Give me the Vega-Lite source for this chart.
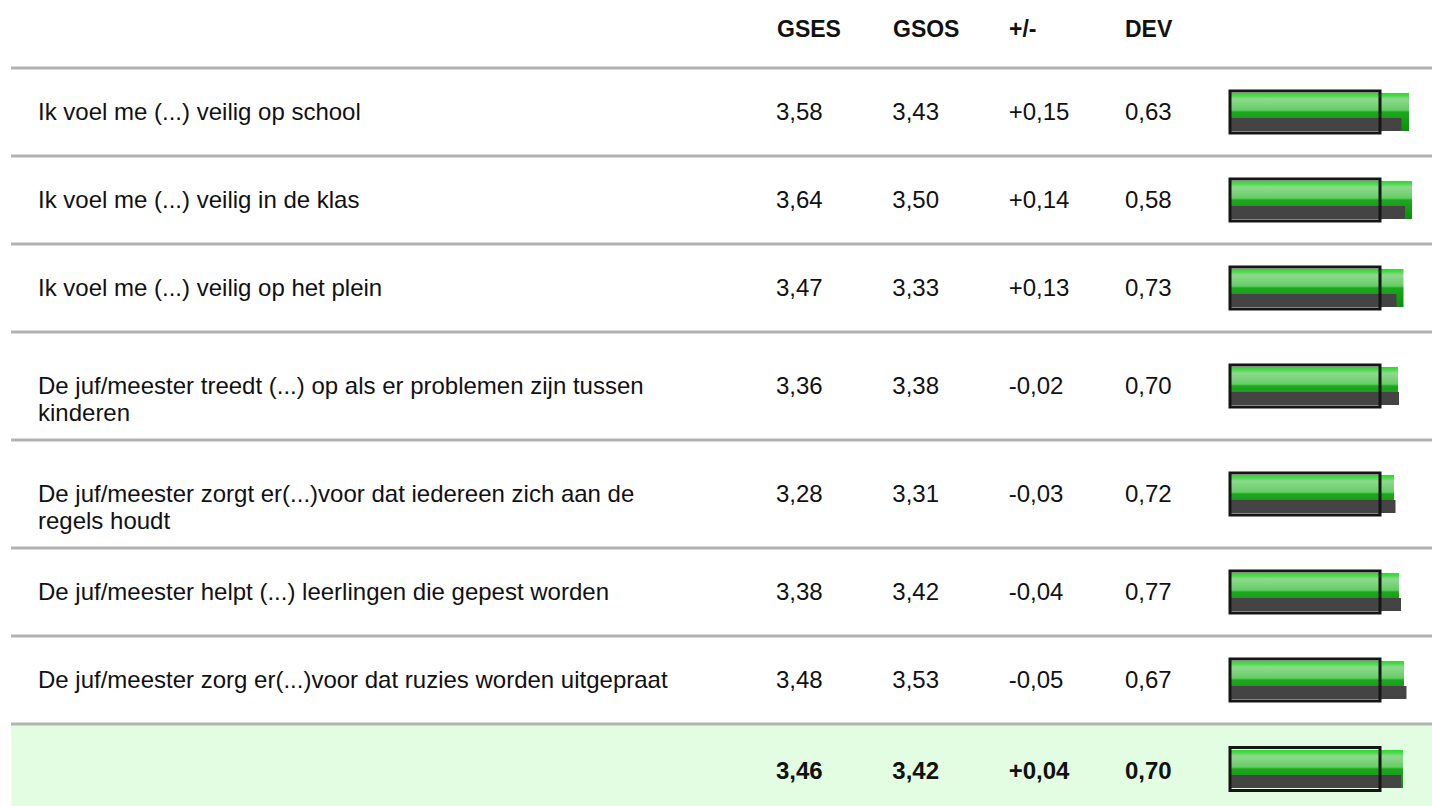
{
  "$schema": "https://vega.github.io/schema/vega-lite/v6.json",
  "padding": {"left": 9, "top": 0, "right": 0, "bottom": 0},
  "spacing": 0,
  "bounds": "flush",
  "background": "white",
  "config": {
    "view": {"stroke": null},
    "axis": {"disable": true},
    "text": {"font": "Liberation Sans", "fontSize": 24, "fill": "#111111", "baseline": "middle", "align": "left"},
    "locale": {"number": {"decimal": ",", "thousands": ".", "grouping": [3], "currency": ["€", ""], "minus": "-"}}
  },
  "datasets": {
    "header": [
      {"row": 0, "key": "GSES", "title": "GSES"},
      {"row": 0, "key": "GSOS", "title": "GSOS"},
      {"row": 0, "key": "diff", "title": "+/-"},
      {"row": 0, "key": "DEV", "title": "DEV"}
    ],
    "rows": [
      {"group": "a", "row": 1, "label": "Ik voel me (...) veilig op school", "GSES": 3.58, "GSOS": 3.43, "diff": 0.15, "DEV": 0.63},
      {"group": "a", "row": 2, "label": "Ik voel me (...) veilig in de klas", "GSES": 3.64, "GSOS": 3.50, "diff": 0.14, "DEV": 0.58},
      {"group": "a", "row": 3, "label": "Ik voel me (...) veilig op het plein", "GSES": 3.47, "GSOS": 3.33, "diff": 0.13, "DEV": 0.73},
      {"group": "b", "row": 4, "label": "De juf/meester treedt (...) op als er problemen zijn tussen\nkinderen", "GSES": 3.36, "GSOS": 3.38, "diff": -0.02, "DEV": 0.70},
      {"group": "b", "row": 5, "label": "De juf/meester zorgt er(...)voor dat iedereen zich aan de\nregels houdt", "GSES": 3.28, "GSOS": 3.31, "diff": -0.03, "DEV": 0.72},
      {"group": "c", "row": 6, "label": "De juf/meester helpt (...) leerlingen die gepest worden", "GSES": 3.38, "GSOS": 3.42, "diff": -0.04, "DEV": 0.77},
      {"group": "c", "row": 7, "label": "De juf/meester zorg er(...)voor dat ruzies worden uitgepraat", "GSES": 3.48, "GSOS": 3.53, "diff": -0.05, "DEV": 0.67},
      {"group": "t", "row": 8, "label": "", "GSES": 3.46, "GSOS": 3.42, "diff": 0.04, "DEV": 0.70}
    ]
  },
  "vconcat": [
    {
      "width": 1423, "height": 68,
      "data": {"name": "header"},
      "mark": {"type": "text", "fontWeight": "bold", "fontSize": 23, "dy": -4},
      "encoding": {
        "y": {"field": "row", "type": "ordinal", "scale": {"paddingInner": 0, "paddingOuter": 0}},
        "x": {"field": "key", "type": "nominal", "scale": {"type": "point", "domain": ["GSES", "GSOS", "diff", "DEV"], "range": [766, 1114], "padding": 0}},
        "text": {"field": "title"}
      }
    },
    {
      "width": 1423, "height": 264,
      "data": {"name": "rows"},
      "transform": [{"filter": "datum.group === 'a'"}],
      "encoding": {"y": {"field": "row", "type": "ordinal", "scale": {"paddingInner": 0, "paddingOuter": 0}}},
      "layer": [
        {"mark": {"type": "rule", "color": "#b3b3b3", "strokeWidth": 3}, "encoding": {"y": {"field": "row", "type": "ordinal", "bandPosition": 0}}},
        {"mark": {"type": "text", "dx": 27, "dy": 1, "lineBreak": "\n", "lineHeight": 27}, "encoding": {"x": {"value": 0}, "text": {"field": "label"}}},
        {"transform": [{"fold": ["GSES", "GSOS", "DEV"], "as": ["key", "v"]}], "mark": {"type": "text", "dy": 1}, "encoding": {"x": {"field": "key", "type": "nominal", "scale": {"type": "point", "domain": ["GSES", "GSOS", "diff", "DEV"], "range": [765, 1114], "padding": 0}}, "text": {"field": "v", "type": "quantitative", "format": ".2f"}}},
        {"mark": {"type": "text", "dy": 1}, "encoding": {"x": {"datum": "diff", "type": "nominal", "scale": {"type": "point", "domain": ["GSES", "GSOS", "diff", "DEV"], "range": [765, 1114], "padding": 0}}, "text": {"field": "diff", "type": "quantitative", "format": "+.2f"}}},
        {"mark": {"type": "bar", "height": 38, "fill": {"gradient": "linear", "x1": 0, "y1": 0, "x2": 0, "y2": 1, "stops": [{"offset": 0, "color": "#33d433"}, {"offset": 0.08, "color": "#4bdc4b"}, {"offset": 0.16, "color": "#8fd98f"}, {"offset": 0.45, "color": "#66cc66"}, {"offset": 0.5, "color": "#1ca81c"}, {"offset": 1, "color": "#0b900b"}]}}, "encoding": {"x": {"field": "GSES", "type": "quantitative", "scale": {"type": "linear", "domain": [-24.38, 4.08], "nice": false, "zero": false}}}},
        {"mark": {"type": "bar", "height": 13, "yOffset": 12.5, "color": "#444444"}, "encoding": {"x": {"field": "GSOS", "type": "quantitative", "scale": {"type": "linear", "domain": [-24.38, 4.08], "nice": false, "zero": false}}}},
        {"mark": {"type": "bar", "height": 42, "fill": "transparent", "stroke": "#151515", "strokeWidth": 3}, "encoding": {"x": {"datum": 0, "type": "quantitative", "scale": {"type": "linear", "domain": [-24.38, 4.08], "nice": false, "zero": false}}, "x2": {"datum": 3}}}
      ],
      "resolve": {"scale": {"x": "independent"}}
    },
    {
      "width": 1423, "height": 216,
      "data": {"name": "rows"},
      "transform": [{"filter": "datum.group === 'b'"}],
      "encoding": {"y": {"field": "row", "type": "ordinal", "scale": {"paddingInner": 0, "paddingOuter": 0}}},
      "layer": [
        {"mark": {"type": "rule", "color": "#b3b3b3", "strokeWidth": 3}, "encoding": {"y": {"field": "row", "type": "ordinal", "bandPosition": 0}}},
        {"mark": {"type": "text", "dx": 27, "dy": 1, "lineBreak": "\n", "lineHeight": 27}, "encoding": {"x": {"value": 0}, "text": {"field": "label"}}},
        {"transform": [{"fold": ["GSES", "GSOS", "DEV"], "as": ["key", "v"]}], "mark": {"type": "text", "dy": 1}, "encoding": {"x": {"field": "key", "type": "nominal", "scale": {"type": "point", "domain": ["GSES", "GSOS", "diff", "DEV"], "range": [765, 1114], "padding": 0}}, "text": {"field": "v", "type": "quantitative", "format": ".2f"}}},
        {"mark": {"type": "text", "dy": 1}, "encoding": {"x": {"datum": "diff", "type": "nominal", "scale": {"type": "point", "domain": ["GSES", "GSOS", "diff", "DEV"], "range": [765, 1114], "padding": 0}}, "text": {"field": "diff", "type": "quantitative", "format": "+.2f"}}},
        {"mark": {"type": "bar", "height": 38, "fill": {"gradient": "linear", "x1": 0, "y1": 0, "x2": 0, "y2": 1, "stops": [{"offset": 0, "color": "#33d433"}, {"offset": 0.08, "color": "#4bdc4b"}, {"offset": 0.16, "color": "#8fd98f"}, {"offset": 0.45, "color": "#66cc66"}, {"offset": 0.5, "color": "#1ca81c"}, {"offset": 1, "color": "#0b900b"}]}}, "encoding": {"x": {"field": "GSES", "type": "quantitative", "scale": {"type": "linear", "domain": [-24.38, 4.08], "nice": false, "zero": false}}}},
        {"mark": {"type": "bar", "height": 13, "yOffset": 12.5, "color": "#444444"}, "encoding": {"x": {"field": "GSOS", "type": "quantitative", "scale": {"type": "linear", "domain": [-24.38, 4.08], "nice": false, "zero": false}}}},
        {"mark": {"type": "bar", "height": 42, "fill": "transparent", "stroke": "#151515", "strokeWidth": 3}, "encoding": {"x": {"datum": 0, "type": "quantitative", "scale": {"type": "linear", "domain": [-24.38, 4.08], "nice": false, "zero": false}}, "x2": {"datum": 3}}}
      ],
      "resolve": {"scale": {"x": "independent"}}
    },
    {
      "width": 1423, "height": 176,
      "data": {"name": "rows"},
      "transform": [{"filter": "datum.group === 'c'"}],
      "encoding": {"y": {"field": "row", "type": "ordinal", "scale": {"paddingInner": 0, "paddingOuter": 0}}},
      "layer": [
        {"mark": {"type": "rule", "color": "#b3b3b3", "strokeWidth": 3}, "encoding": {"y": {"field": "row", "type": "ordinal", "bandPosition": 0}}},
        {"mark": {"type": "text", "dx": 27, "dy": 1, "lineBreak": "\n", "lineHeight": 27}, "encoding": {"x": {"value": 0}, "text": {"field": "label"}}},
        {"transform": [{"fold": ["GSES", "GSOS", "DEV"], "as": ["key", "v"]}], "mark": {"type": "text", "dy": 1}, "encoding": {"x": {"field": "key", "type": "nominal", "scale": {"type": "point", "domain": ["GSES", "GSOS", "diff", "DEV"], "range": [765, 1114], "padding": 0}}, "text": {"field": "v", "type": "quantitative", "format": ".2f"}}},
        {"mark": {"type": "text", "dy": 1}, "encoding": {"x": {"datum": "diff", "type": "nominal", "scale": {"type": "point", "domain": ["GSES", "GSOS", "diff", "DEV"], "range": [765, 1114], "padding": 0}}, "text": {"field": "diff", "type": "quantitative", "format": "+.2f"}}},
        {"mark": {"type": "bar", "height": 38, "fill": {"gradient": "linear", "x1": 0, "y1": 0, "x2": 0, "y2": 1, "stops": [{"offset": 0, "color": "#33d433"}, {"offset": 0.08, "color": "#4bdc4b"}, {"offset": 0.16, "color": "#8fd98f"}, {"offset": 0.45, "color": "#66cc66"}, {"offset": 0.5, "color": "#1ca81c"}, {"offset": 1, "color": "#0b900b"}]}}, "encoding": {"x": {"field": "GSES", "type": "quantitative", "scale": {"type": "linear", "domain": [-24.38, 4.08], "nice": false, "zero": false}}}},
        {"mark": {"type": "bar", "height": 13, "yOffset": 12.5, "color": "#444444"}, "encoding": {"x": {"field": "GSOS", "type": "quantitative", "scale": {"type": "linear", "domain": [-24.38, 4.08], "nice": false, "zero": false}}}},
        {"mark": {"type": "bar", "height": 42, "fill": "transparent", "stroke": "#151515", "strokeWidth": 3}, "encoding": {"x": {"datum": 0, "type": "quantitative", "scale": {"type": "linear", "domain": [-24.38, 4.08], "nice": false, "zero": false}}, "x2": {"datum": 3}}}
      ],
      "resolve": {"scale": {"x": "independent"}}
    },
    {
      "width": 1423, "height": 82,
      "view": {"fill": "#e3fde3", "stroke": null},
      "data": {"name": "rows"},
      "transform": [{"filter": "datum.group === 't'"}],
      "encoding": {"y": {"field": "row", "type": "ordinal", "scale": {"paddingInner": 0, "paddingOuter": 0}}},
      "layer": [
        {"mark": {"type": "rule", "color": "#b3b3b3", "strokeWidth": 3}, "encoding": {"y": {"field": "row", "type": "ordinal", "bandPosition": 0}}},
        {"transform": [{"fold": ["GSES", "GSOS", "DEV"], "as": ["key", "v"]}], "mark": {"type": "text", "fontWeight": "bold", "dy": 7}, "encoding": {"x": {"field": "key", "type": "nominal", "scale": {"type": "point", "domain": ["GSES", "GSOS", "diff", "DEV"], "range": [765, 1114], "padding": 0}}, "text": {"field": "v", "type": "quantitative", "format": ".2f"}}},
        {"mark": {"type": "text", "fontWeight": "bold", "dy": 7}, "encoding": {"x": {"datum": "diff", "type": "nominal", "scale": {"type": "point", "domain": ["GSES", "GSOS", "diff", "DEV"], "range": [765, 1114], "padding": 0}}, "text": {"field": "diff", "type": "quantitative", "format": "+.2f"}}},
        {"mark": {"type": "bar", "height": 38, "yOffset": 4, "fill": {"gradient": "linear", "x1": 0, "y1": 0, "x2": 0, "y2": 1, "stops": [{"offset": 0, "color": "#33d433"}, {"offset": 0.08, "color": "#4bdc4b"}, {"offset": 0.16, "color": "#8fd98f"}, {"offset": 0.45, "color": "#66cc66"}, {"offset": 0.5, "color": "#1ca81c"}, {"offset": 1, "color": "#0b900b"}]}}, "encoding": {"x": {"field": "GSES", "type": "quantitative", "scale": {"type": "linear", "domain": [-24.38, 4.08], "nice": false, "zero": false}}}},
        {"mark": {"type": "bar", "height": 13, "yOffset": 16.5, "color": "#444444"}, "encoding": {"x": {"field": "GSOS", "type": "quantitative", "scale": {"type": "linear", "domain": [-24.38, 4.08], "nice": false, "zero": false}}}},
        {"mark": {"type": "bar", "height": 43, "yOffset": 4, "fill": "transparent", "stroke": "#151515", "strokeWidth": 3}, "encoding": {"x": {"datum": 0, "type": "quantitative", "scale": {"type": "linear", "domain": [-24.38, 4.08], "nice": false, "zero": false}}, "x2": {"datum": 3}}}
      ],
      "resolve": {"scale": {"x": "independent"}}
    }
  ]
}
